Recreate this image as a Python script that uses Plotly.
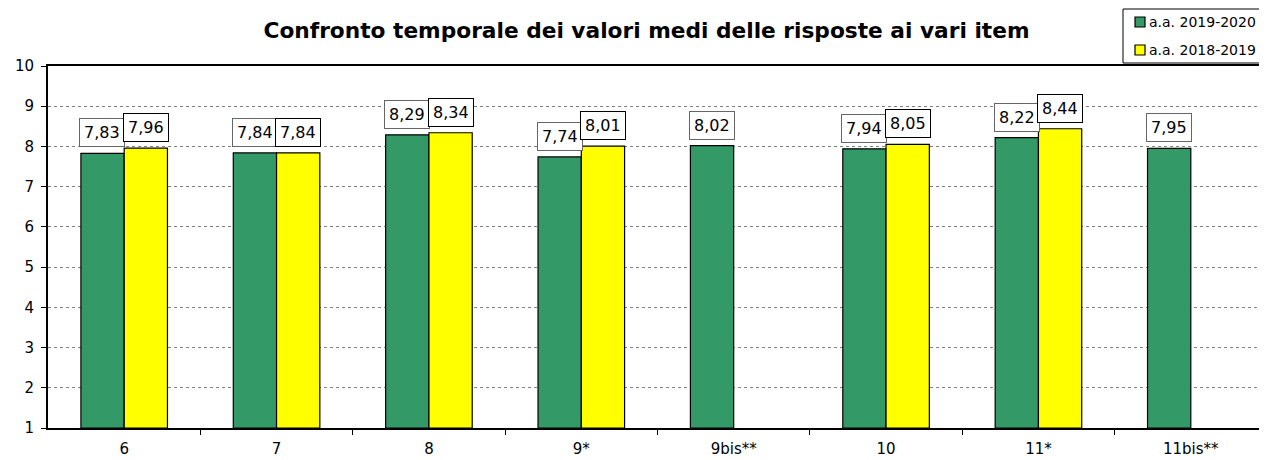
import plotly.graph_objects as go

categories = ["6", "7", "8", "9*", "9bis**", "10", "11*", "11bis**"]
series_2019_2020 = [7.83, 7.84, 8.29, 7.74, 8.02, 7.94, 8.22, 7.95]
series_2018_2019 = [7.96, 7.84, 8.34, 8.01, None, 8.05, 8.44, None]
names = ["a.a. 2019-2020", "a.a. 2018-2019"]
colors = ["#339966", "#FFFF00"]
y_ticks = list(range(1, 11))
title_text = "Confronto temporale dei valori medi delle risposte ai vari item"

FONT = "DejaVu Sans"
OFF = 8  # page body margin
WIN_W, WIN_H = 1267, 460
W, H = WIN_W - OFF, WIN_H - OFF
PL, PR, PT, PB = 48, 1267, 66, 428   # plot area in window pixels
ML, MR, MT, MB = PL - OFF, WIN_W - PR, PT - OFF, WIN_H - PB
idx = list(range(len(categories)))

fig = go.Figure()
for k, (name, vals, col) in enumerate(zip(names, [series_2019_2020, series_2018_2019], colors)):
    fig.add_trace(go.Bar(
        x=idx, y=[v - 1 if v is not None else None for v in vals], base=1,
        name=name, showlegend=False,
        marker=dict(color=col, line=dict(color="black", width=1.2)),
        hoverinfo="skip",
    ))

def fmt(v):
    return f"{v:.2f}".replace(".", ",")

annotations = []
for vals, shift, bcol in [(series_2019_2020, -21.7, "#666666"), (series_2018_2019, 21.7, "black")]:
    for i, v in zip(idx, vals):
        if v is None:
            continue
        annotations.append(dict(
            x=i, y=v, xref="x", yref="y", text=fmt(v), showarrow=False,
            xshift=shift, yshift=6, yanchor="bottom",
            font=dict(family=FONT, size=16, color="black"),
            bgcolor="white", bordercolor=bcol, borderwidth=1, borderpad=4,
        ))

# manual legend (window pixel -> paper conversion)
def px(x):
    return (x - PL) / (PR - PL)
def py(y):
    return (PB - y) / (PB - PT)

shapes = [dict(type="rect", xref="paper", yref="paper",
               x0=px(1123), x1=px(1280), y0=py(63), y1=py(9),
               line=dict(color="black", width=1), fillcolor="white", layer="above")]
for k, (name, col) in enumerate(zip(names, colors)):
    cy = 22 + 28 * k
    shapes.append(dict(type="rect", xref="paper", yref="paper",
                       x0=px(1135), x1=px(1145), y0=py(cy + 5), y1=py(cy - 5),
                       line=dict(color="black", width=1.2), fillcolor=col, layer="above"))
    annotations.append(dict(x=px(1147), y=py(cy), xref="paper", yref="paper",
                            xanchor="left", yanchor="middle", showarrow=False,
                            text=name, font=dict(family=FONT, size=14, color="black")))

fig.update_layout(
    width=W, height=H,
    margin=dict(l=ML, r=MR, t=MT, b=MB, autoexpand=False),
    paper_bgcolor="white", plot_bgcolor="white",
    barmode="group", bargap=0.432, bargroupgap=0,
    title=dict(text=title_text, x=(646.5 - OFF) / W, xanchor="center",
               y=1 - (30 - OFF) / H, yanchor="middle",
               font=dict(family=FONT, size=21.7, color="black", weight="bold")),
    annotations=annotations, shapes=shapes,
    showlegend=False,
)
fig.update_xaxes(
    type="linear", range=[-0.5, len(categories) - 0.5], automargin=False,
    tickvals=idx, ticktext=categories,
    showline=True, linecolor="black", linewidth=2, mirror=True,
    ticks="", showgrid=False, zeroline=False, ticklabelstandoff=6,
    tickfont=dict(family=FONT, size=15, color="black"),
    minor=dict(tickvals=[i + 0.5 for i in idx[:-1]], ticks="outside", ticklen=5,
               tickcolor="black", showgrid=False),
)
fig.update_yaxes(
    range=[1, 10], tickvals=y_ticks, automargin=False,
    showline=True, linecolor="black", linewidth=2, mirror=True,
    ticks="outside", ticklen=5, tickcolor="black", ticklabelstandoff=4,
    tickfont=dict(family=FONT, size=15, color="black"),
    showgrid=True, gridcolor="#808080", gridwidth=1, griddash="dot",
    zeroline=False,
)
fig.write_html("out.html")
